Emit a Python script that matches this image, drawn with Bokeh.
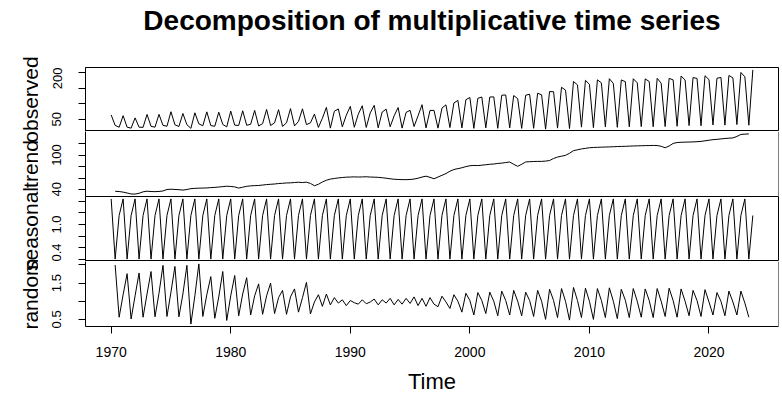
import math
from bokeh.plotting import figure
from bokeh.layouts import row, column
from bokeh.models import Range1d, FixedTicker, Span
from bokeh.embed import file_html
from bokeh.resources import INLINE
from bokeh.core.properties import value

# ---------------- data ----------------
start_year = 1970
frequency = 3

observed = [
    63.7, 30.0, 24.0,
    61.3, 24.3, 21.0,
    54.1, 24.2, 23.6,
    65.2, 26.9, 24.2,
    65.5, 30.2, 27.2,
    74.0, 31.8, 26.5,
    68.4, 32.2, 20.4,
    70.6, 34.8, 28.8,
    73.6, 29.4, 27.1,
    72.5, 33.1, 25.1,
    76.1, 30.8, 29.8,
    77.1, 30.4, 33.5,
    78.4, 28.1, 35.7,
    81.4, 29.7, 38.1,
    80.7, 26.6, 38.3,
    84.1, 28.2, 42.9,
    83.4, 32.3, 38.3,
    66.5, 23.4, 53.2,
    88.0, 21.1, 75.7,
    83.0, 25.5, 62.9,
    91.3, 23.9, 65.9,
    93.4, 23.3, 70.2,
    94.6, 22.1, 73.1,
    82.3, 25.5, 60.6,
    87.6, 21.2, 71.8,
    78.5, 26.2, 61.0,
    96.7, 21.8, 78.2,
    78.4, 21.1, 85.7,
    96.2, 23.0, 102.3,
    110.5, 21.8, 112.8,
    120.0, 20.3, 117.3,
    121.5, 22.0, 121.4,
    122.0, 20.5, 127.3,
    128.1, 21.8, 126.2,
    116.2, 20.2, 127.2,
    130.4, 20.6, 133.7,
    128.5, 17.9, 139.1,
    138.5, 21.2, 152.9,
    143.7, 19.8, 171.5,
    160.5, 24.3, 175.3,
    162.5, 22.6, 176.8,
    167.2, 25.0, 180.5,
    165.0, 23.8, 176.5,
    171.0, 25.4, 180.4,
    167.2, 26.0, 180.0,
    171.3, 25.6, 181.7,
    166.1, 26.1, 181.6,
    176.7, 27.2, 189.0,
    176.5, 29.4, 184.2,
    181.2, 28.7, 190.0,
    177.6, 31.4, 182.0,
    184.5, 30.8, 190.9,
    183.3, 32.7, 200.5,
    186.6, 30.6, 209.0,
]

trend = [
    37.5, 37.0,
    36.0, 34.5, 32.8,
    32.6, 34.0, 36.5,
    37.6, 37.0, 36.8,
    37.2, 38.0, 40.5,
    41.0, 40.6, 40.2,
    39.5, 40.5, 42.0,
    42.5, 42.8, 43.0,
    43.2, 43.8, 44.2,
    44.8, 45.5, 46.2,
    45.8, 45.0, 43.0,
    44.5, 46.0, 46.8,
    47.2, 47.5, 48.2,
    49.0, 49.5, 50.0,
    50.8, 51.2, 51.8,
    52.0, 52.6, 53.0,
    52.5, 53.2, 51.0,
    47.0, 49.5, 53.5,
    56.5, 58.5, 59.5,
    60.5, 61.2, 61.8,
    62.0, 62.3, 62.0,
    62.2, 62.5, 62.0,
    61.8, 61.5, 60.8,
    60.0, 59.0, 58.2,
    57.8, 57.6, 57.5,
    57.8, 58.5, 60.0,
    62.0, 63.5, 61.5,
    59.0, 62.0, 65.0,
    68.0, 72.0, 75.0,
    76.5, 78.0, 80.0,
    81.5, 82.0, 81.8,
    82.5, 83.2, 84.0,
    84.5, 85.5, 86.0,
    87.0, 88.0, 84.0,
    80.5, 84.0, 88.0,
    88.5, 88.8, 89.0,
    89.0, 89.5, 90.5,
    94.0, 96.5, 98.0,
    99.5, 103.0, 107.5,
    109.0, 110.5, 111.5,
    112.5, 113.0, 113.3,
    113.5, 113.8, 114.0,
    114.3, 114.6, 114.8,
    115.0, 115.3, 115.6,
    115.8, 116.0, 116.2,
    116.3, 116.5, 116.4,
    115.0, 112.5, 115.5,
    120.0, 121.5, 122.0,
    122.2, 122.4, 122.6,
    123.0, 123.5, 124.5,
    125.5, 126.5, 127.0,
    127.8, 128.5, 129.0,
    129.5, 132.0, 135.5,
    136.0, 136.4,
]

seasonal_figure = [1.444, 0.400, 1.156]

random_component = [
    2.00, 0.56,
    1.18, 1.76, 0.51,
    1.15, 1.78, 0.56,
    1.20, 1.82, 0.57,
    1.22, 1.99, 0.58,
    1.25, 1.96, 0.57,
    1.20, 1.99, 0.37,
    1.15, 2.03, 0.58,
    1.18, 1.68, 0.53,
    1.12, 1.82, 0.47,
    1.15, 1.71, 0.60,
    1.20, 1.65, 0.62,
    1.15, 1.48, 0.64,
    1.15, 1.50, 0.66,
    1.10, 1.30, 0.64,
    1.12, 1.34, 0.70,
    1.10, 1.52, 0.65,
    0.98, 1.18, 0.86,
    1.20, 0.90, 1.10,
    0.95, 1.04, 0.88,
    1.02, 0.96, 0.92,
    1.04, 0.93, 0.98,
    1.06, 0.90, 1.04,
    0.95, 1.08, 0.90,
    1.05, 0.92, 1.08,
    0.94, 1.12, 0.88,
    1.08, 0.86, 1.10,
    0.92, 0.85, 1.14,
    0.98, 0.80, 1.18,
    1.00, 0.70, 1.22,
    1.02, 0.62, 1.24,
    1.02, 0.66, 1.25,
    1.00, 0.60, 1.28,
    1.02, 0.62, 1.30,
    1.00, 0.60, 1.25,
    1.02, 0.58, 1.30,
    1.00, 0.50, 1.33,
    1.02, 0.55, 1.35,
    1.00, 0.48, 1.38,
    1.02, 0.55, 1.36,
    1.00, 0.50, 1.35,
    1.02, 0.55, 1.37,
    1.00, 0.52, 1.33,
    1.03, 0.55, 1.35,
    1.00, 0.56, 1.34,
    1.02, 0.55, 1.35,
    1.00, 0.58, 1.36,
    1.02, 0.56, 1.34,
    1.00, 0.60, 1.30,
    1.02, 0.58, 1.32,
    0.98, 0.62, 1.24,
    1.00, 0.60, 1.28,
    0.98, 0.62, 1.28,
    0.95, 0.56,
]

observed_ticks = [50, 100, 150, 200]
observed_tick_labels = {50: "50", 100: "", 150: "", 200: "200"}
trend_ticks = [40, 60, 80, 100, 120]
trend_tick_labels = {40: "40", 60: "", 80: "", 100: "100", 120: ""}
seasonal_ticks = [0.4, 0.6, 0.8, 1.0, 1.2, 1.4]
seasonal_tick_labels = {0.4: "0.4", 0.6: "", 0.8: "", 1.0: "1.0", 1.2: "", 1.4: ""}
random_ticks = [0.5, 1.0, 1.5, 2.0]
random_tick_labels = {0.5: "0.5", 1.0: "", 1.5: "1.5", 2.0: ""}
time_ticks = [1970, 1980, 1990, 2000, 2010, 2020]

panel_names = ["observed", "trend", "seasonal", "random"]
title_text = "Decomposition of multiplicative time series"

# ---------------- time index of the series ----------------
n = len(observed)
time = [start_year + i / frequency for i in range(n)]
nan = float("nan")
half = frequency // 2
trend_full = [nan] * half + trend + [nan] * half
random_full = [nan] * half + random_component + [nan] * half
seasonal_full = [seasonal_figure[i % frequency] for i in range(n)]


def padded(vals):
    v = [x for x in vals if not math.isnan(x)]
    lo, hi = min(v), max(v)
    d = 0.04 * (hi - lo)
    return Range1d(lo - d, hi + d)


xr = padded(time)
FONT = "Liberation Sans"
LW = 38                 # strip carrying the rotated panel names
FRAME_W = 693
LEFT = 85 - LW          # frame starts 85 px from the page's left edge
RIGHT = 2
TITLE_H = 67
heights = [64, 65, 65, 65]
bottoms = [0, 0, 0, 72]

series = [observed, trend_full, seasonal_full, random_full]
ticks = [observed_ticks, trend_ticks, seasonal_ticks, random_ticks]
labels = [observed_tick_labels, trend_tick_labels, seasonal_tick_labels, random_tick_labels]

# title band (same horizontal frame as the panels, pixel-unit vertical range)
tfig = figure(
    frame_width=FRAME_W, frame_height=TITLE_H, x_range=xr, y_range=Range1d(0, TITLE_H),
    x_axis_type=None, y_axis_type=None, toolbar_location=None, output_backend="svg",
    min_border_left=LEFT, min_border_right=RIGHT, min_border_top=0, min_border_bottom=0,
    outline_line_color=None, background_fill_color="white", border_fill_color="white",
)
tfig.grid.visible = False
tfig.text(x=[(xr.start + xr.end) / 2], y=[TITLE_H - 20], text=[title_text],
          text_font=value(FONT), text_font_size="28px", text_font_style="bold",
          text_align="center", text_baseline="middle", text_color="black")

panels = [tfig]
for k in range(4):
    boxed = k in (0, 2)
    p = figure(
        frame_width=FRAME_W, frame_height=heights[k],
        x_range=xr, y_range=padded(series[k]),
        x_axis_type=None if k < 3 else "linear",
        toolbar_location=None, output_backend="svg",
        min_border_left=LEFT, min_border_right=RIGHT,
        min_border_top=0, min_border_bottom=bottoms[k],
        background_fill_color="white", border_fill_color="white",
        outline_line_color="black" if boxed else None, outline_line_width=1,
    )
    p.grid.visible = False
    p.line(time, series[k], line_color="black", line_width=1)
    if not boxed:
        p.add_layout(Span(location=xr.end, dimension="height",
                          line_color="black", line_width=1))
    ya = p.yaxis[0]
    ya.ticker = FixedTicker(ticks=ticks[k])
    ya.major_label_overrides = labels[k]
    ya.minor_tick_line_color = None
    ya.major_tick_in = 0
    ya.major_tick_out = 7
    ya.major_label_orientation = "vertical"
    ya.major_label_standoff = 17
    ya.major_label_text_font = FONT
    ya.major_label_text_font_size = "13px"
    ya.major_label_text_color = "black"
    ya.axis_line_color = "black"
    if k == 3:
        xa = p.xaxis[0]
        xa.ticker = FixedTicker(ticks=time_ticks)
        xa.minor_tick_line_color = None
        xa.major_tick_in = 0
        xa.major_tick_out = 7
        xa.major_label_standoff = 13
        xa.major_label_text_font = FONT
        xa.major_label_text_font_size = "14px"
        xa.major_label_text_color = "black"
        xa.axis_label = "Time"
        xa.axis_label_text_font = FONT
        xa.axis_label_text_font_size = "22px"
        xa.axis_label_text_font_style = "normal"
        xa.axis_label_text_color = "black"
        xa.axis_label_standoff = 9
        xa.axis_line_color = "black"
    panels.append(p)

col = column(*panels, spacing=0)
H = TITLE_H + sum(heights) + sum(bottoms)

centres = []
acc = TITLE_H
for k in range(4):
    centres.append(H - (acc + heights[k] / 2))
    acc += heights[k] + bottoms[k]

lab = figure(
    width=LW, height=H, x_range=Range1d(0, LW), y_range=Range1d(0, H),
    x_axis_type=None, y_axis_type=None, toolbar_location=None, output_backend="svg",
    min_border=0, outline_line_color=None,
    background_fill_color="white", border_fill_color="white",
)
lab.grid.visible = False
lab.text(x=[30] * 4, y=centres, text=panel_names, angle=math.pi / 2,
         text_font=value(FONT), text_font_size="21px", text_align="center",
         text_baseline="alphabetic", text_color="black")

layout = row(lab, col, spacing=0)
open("out.html", "w").write(file_html(layout, INLINE))
